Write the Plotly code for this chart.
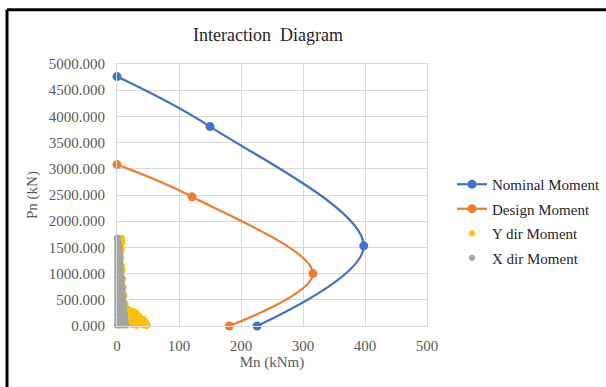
import plotly.graph_objects as go

# ---- data ----
nominal_mn = [0, 150, 398, 226]
nominal_pn = [4760, 3805, 1530, 0]

design_mn = [0, 121, 316, 181]
design_pn = [3080, 2465, 1000, 0]

ydir_mn = [8, 9, 7, 8, 6, 7, 5, 8, 9, 7, 10, 8, 11, 9, 12, 10, 14, 13, 18, 22, 28, 24, 32, 20, 30,
           36, 26, 40, 34, 44, 28, 38, 46, 24, 42, 32, 48, 20, 16, 36, 44, 14, 18, 30, 50,
           22, 26, 34, 40, 46, 38, 30, 24, 42, 28, 16, 12, 10]
ydir_pn = [1680, 1600, 1520, 1450, 1380, 1300, 1220, 1150, 1080, 980, 900, 820, 740, 660, 580, 500,
           420, 360, 320, 300, 280, 240, 250, 200, 180, 200, 150, 120, 100, 80, 60, 40, 30, 20, 10,
           0, 0, 40, 100, 140, 50, 260, 160, 90, 20,
           110, 230, 190, 60, 90, 150, 30, 70, 140, 110, 340, 440, 620]

xdir_mn = [0, 1,
           0, 2,
           1, 3,
           0, 2,
           1, 3,
           0, 4,
           2, 3,
           0, 4,
           1, 3, 5,
           0, 2, 4,
           1, 5,
           0, 3, 5,
           2, 4,
           0, 3, 6,
           1, 5,
           0, 2, 6,
           3, 5,
           0, 1, 7,
           2, 4, 6,
           0, 5, 7,
           1, 3, 8,
           0, 6,
           2, 4, 8,
           0, 7,
           1, 3, 6, 9,
           0, 5, 8,
           2, 9,
           0, 4, 7,
           1, 6, 10,
           0, 3, 9,
           2, 5, 10,
           0, 7, 11,
           1, 4, 9,
           0, 6, 11,
           2, 8, 12,
           0, 4, 10,
           1, 7, 12,
           0, 5, 13,
           3, 9, 12,
           0, 6, 14,
           2, 10, 13,
           0, 5, 8, 14,
           0, 3, 7, 11, 15]
xdir_pn = [1690, 1690,
           1650, 1650,
           1610, 1610,
           1570, 1570,
           1530, 1530,
           1490, 1490,
           1450, 1450,
           1410, 1410,
           1370, 1370, 1370,
           1330, 1330, 1330,
           1290, 1290,
           1250, 1250, 1250,
           1210, 1210,
           1170, 1170, 1170,
           1130, 1130,
           1090, 1090, 1090,
           1050, 1050,
           1010, 1010, 1010,
           970, 970, 970,
           930, 930, 930,
           890, 890, 890,
           850, 850,
           810, 810, 810,
           770, 770,
           730, 730, 730, 730,
           690, 690, 690,
           650, 650,
           610, 610, 610,
           570, 570, 570,
           530, 530, 530,
           490, 490, 490,
           450, 450, 450,
           410, 410, 410,
           370, 370, 370,
           330, 330, 330,
           290, 290, 290,
           250, 250, 250,
           210, 210, 210,
           170, 170, 170,
           130, 130, 130,
           90, 90, 90,
           50, 50, 50, 50,
           10, 10, 10, 10, 10]

x_ticks = [0, 100, 200, 300, 400, 500]
y_ticks = [0, 500, 1000, 1500, 2000, 2500, 3000, 3500, 4000, 4500, 5000]

FONT = "Liberation Serif, Times New Roman, serif"

fig = go.Figure()
fig.add_trace(go.Scatter(x=nominal_mn, y=nominal_pn, mode="lines+markers", name="Nominal Moment",
                         line=dict(color="#4472C4", width=2.25, shape="spline", smoothing=1),
                         marker=dict(size=9, color="#4472C4"), cliponaxis=False, legendgroup="a"))
fig.add_trace(go.Scatter(x=design_mn, y=design_pn, mode="lines+markers", name="Design Moment",
                         line=dict(color="#ED7D31", width=2.25, shape="spline", smoothing=1),
                         marker=dict(size=9, color="#ED7D31"), cliponaxis=False, legendgroup="b"))
fig.add_trace(go.Scatter(x=ydir_mn, y=ydir_pn, mode="markers", name="Y dir Moment",
                         marker=dict(size=6, color="#FFC000"), cliponaxis=False, legendgroup="c"))
fig.add_trace(go.Scatter(x=xdir_mn, y=xdir_pn, mode="markers", name="X dir Moment",
                         marker=dict(size=6, color="#A5A5A5"), cliponaxis=False, legendgroup="d"))

fig.update_layout(
    width=606, height=387,
    margin=dict(l=117, r=179, t=64, b=61, autoexpand=False),
    paper_bgcolor="white", plot_bgcolor="white",
    font=dict(family=FONT, size=15, color="#595959"),
    title=dict(text="Interaction  Diagram", x=(268) / 606, xanchor="center", y=1 - 35 / 387,
               yanchor="middle", font=dict(family=FONT, size=18, color="#262626")),
    showlegend=True,
    legend=dict(xref="container", yref="container", x=452 / 606, xanchor="left",
                y=1 - 168 / 387, yanchor="top",
                font=dict(family=FONT, size=15, color="#262626"),
                tracegroupgap=2, bgcolor="rgba(0,0,0,0)", itemsizing="trace"),
    xaxis=dict(range=[0, 500], tickvals=x_ticks, ticktext=[str(v) for v in x_ticks],
               showgrid=True, gridcolor="#D9D9D9", gridwidth=1, zeroline=False,
               showline=True, linecolor="#D9D9D9", mirror=True,
               ticks="outside", ticklen=6, tickcolor="rgba(0,0,0,0)",
               title=dict(text="Mn (kNm)", standoff=0, font=dict(family=FONT, size=15, color="#595959"))),
    yaxis=dict(range=[0, 5000], tickvals=y_ticks, tickformat=".3f",
               showgrid=True, gridcolor="#D9D9D9", gridwidth=1, zeroline=False,
               showline=True, linecolor="#D9D9D9", mirror=True,
               ticks="outside", ticklen=8, tickcolor="rgba(0,0,0,0)",
               title=dict(text="Pn (kN)", standoff=7, font=dict(family=FONT, size=15, color="#595959"))),
    shapes=[
        dict(type="line", xref="paper", yref="paper", x0=-0.3548, x1=-0.3548, y0=1.207, y1=-0.5,
             line=dict(color="black", width=3)),
        dict(type="line", xref="paper", yref="paper", x0=-0.3548, x1=1.7, y0=1.207, y1=1.207,
             line=dict(color="black", width=3)),
    ],
)

fig.write_html("out.html")
